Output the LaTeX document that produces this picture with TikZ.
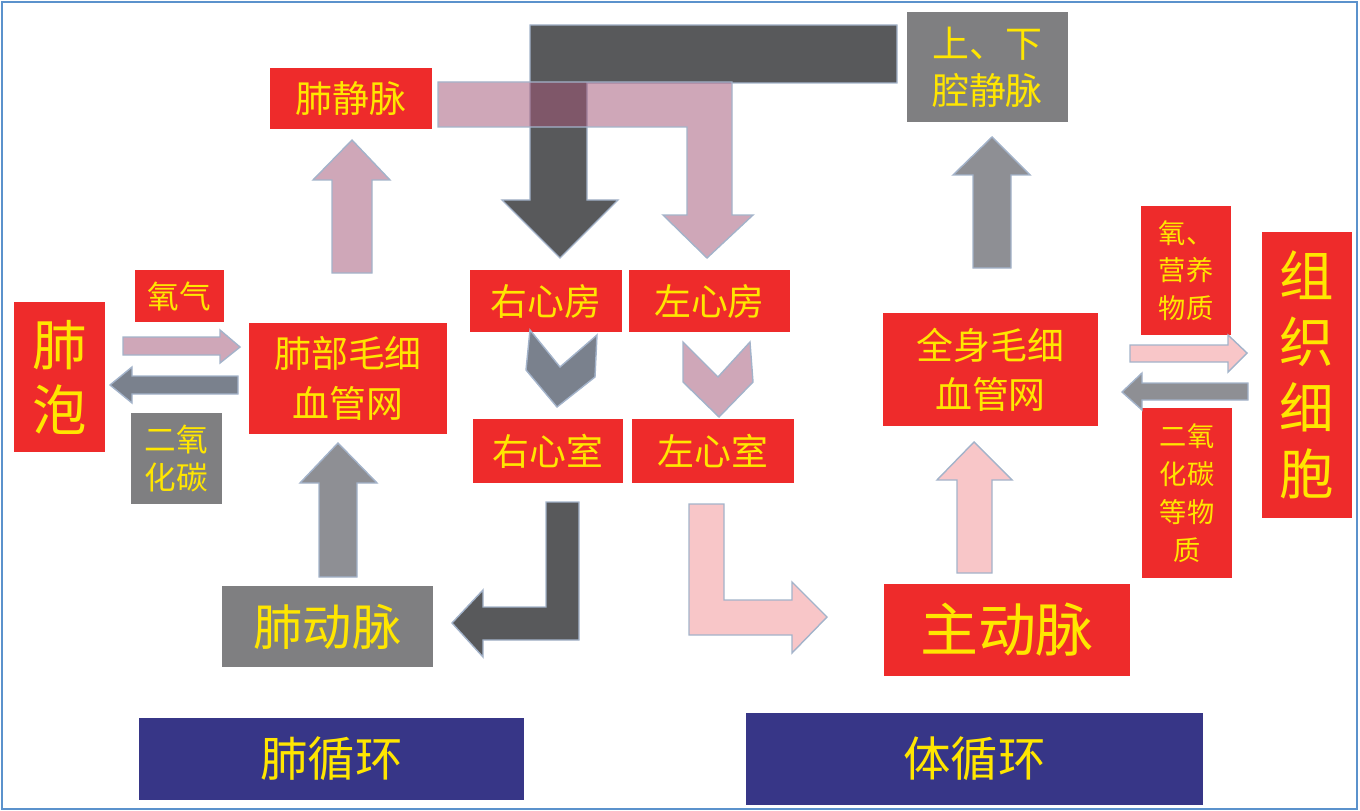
\documentclass[tikz,border=0pt]{standalone}
\usepackage{fontspec}
\newfontfamily\cjk{Noto Sans CJK SC}
\newcommand\setfs[2]{\fontsize{#1}{#2}\selectfont}
\definecolor{boxred}{HTML}{EE2B2B}
\definecolor{boxgray}{HTML}{7F7F81}
\definecolor{navy}{HTML}{373687}
\definecolor{boxtext}{HTML}{FFE600}
\definecolor{framebl}{HTML}{5B92CC}
\definecolor{arrowedge}{HTML}{A3B3CA}
\definecolor{darkarr}{HTML}{58595B}
\definecolor{grayarr}{HTML}{8E8F94}
\definecolor{slatearr}{HTML}{7A818D}
\definecolor{mauve}{HTML}{CFA7B8}
\definecolor{mauvedeep}{HTML}{A35777}
\definecolor{lightpink}{HTML}{F8C6C8}
\begin{document}
\begin{tikzpicture}[x=0.02cm,y=-0.02cm,
  box/.style={inner sep=0pt,text=boxtext,align=center},
  redbox/.style={box,fill=boxred},
  graybox/.style={box,fill=boxgray},
  navybox/.style={box,fill=navy},
  blk/.style={draw=arrowedge,line width=0.8pt,line join=miter}]
  \useasboundingbox (0,0) rectangle (1360,811);
  \draw[framebl,line width=1.3pt] (2,2) rectangle (1357,809);

  % boxes
  \node[redbox,minimum width=3.24cm,minimum height=1.22cm,font=\cjk\setfs{21}{26}] (jingmai) at (351,98.5) {肺静脉};
  \node[graybox,minimum width=3.22cm,minimum height=2.2cm,font=\cjk\setfs{21}{26.6}] (qiangjm) at (987.5,67) {上、下\\腔静脉};
  \node[redbox,minimum width=3.04cm,minimum height=1.24cm,font=\cjk\setfs{21}{26}] (youfang) at (546,301) {右心房};
  \node[redbox,minimum width=3.22cm,minimum height=1.24cm,font=\cjk\setfs{21}{26}] (zuofang) at (709.5,301) {左心房};
  \node[redbox,minimum width=3.0cm,minimum height=1.28cm,font=\cjk\setfs{21}{26}] (youshi) at (548,451) {右心室};
  \node[redbox,minimum width=3.24cm,minimum height=1.28cm,font=\cjk\setfs{21}{26}] (zuoshi) at (713,451) {左心室};
  \node[redbox,minimum width=1.82cm,minimum height=3.0cm,font=\cjk\setfs{31}{37}] (feipao) at (59.5,377) {肺\\泡};
  \node[redbox,minimum width=1.78cm,minimum height=1.04cm,font=\cjk\setfs{18}{21.5}] (yangqi) at (179.5,296) {氧气};
  \node[graybox,minimum width=1.82cm,minimum height=1.82cm,font=\cjk\setfs{18}{21.5}] (co2a) at (176.5,458.5) {二氧\\化碳};
  \node[redbox,minimum width=3.96cm,minimum height=2.22cm,font=\cjk\setfs{21}{28}] (feimao) at (348,378.5) {肺部毛细\\血管网};
  \node[graybox,minimum width=4.22cm,minimum height=1.62cm,font=\cjk\setfs{28}{32}] (feidong) at (327.5,626.5) {肺动脉};
  \node[redbox,minimum width=4.92cm,minimum height=1.84cm,font=\cjk\setfs{33}{38}] (zhudong) at (1007,630) {主动脉};
  \node[redbox,minimum width=4.3cm,minimum height=2.26cm,font=\cjk\setfs{21}{28}] (quanshen) at (990.5,369.5) {全身毛细\\血管网};
  \node[redbox,minimum width=1.8cm,minimum height=2.58cm,font=\cjk\setfs{15.5}{21.5}] (yangying) at (1186,270.5) {氧、\\营养\\物质};
  \node[redbox,minimum width=1.8cm,minimum height=3.4cm,font=\cjk\setfs{15.5}{21.5}] (co2b) at (1187,493) {二氧\\化碳\\等物\\质};
  \node[redbox,minimum width=1.8cm,minimum height=5.72cm,font=\cjk\setfs{31}{37.5}] (zuzhi) at (1307,375) {组\\织\\细\\胞};
  \node[navybox,minimum width=7.7cm,minimum height=1.64cm,font=\cjk\setfs{27}{30}] (feixun) at (331.5,759) {肺循环};
  \node[navybox,minimum width=9.14cm,minimum height=1.84cm,font=\cjk\setfs{27}{30}] (tixun) at (974.5,759) {体循环};

  % big arrows into the atria
  \draw[blk,fill=darkarr] (897,25) -- (530,25) -- (530,200) -- (502,200) -- (560,258)
       -- (618,200) -- (587,200) -- (587,83) -- (897,83) -- cycle;
  \draw[blk,fill=mauvedeep,fill opacity=0.52] (438,82) -- (732,82) -- (732,215) -- (753,215)
       -- (707,258) -- (663,215) -- (687,215) -- (687,127) -- (438,127) -- cycle;

  % up arrows
  \draw[blk,fill=mauve] (332,273) -- (332,180) -- (313,180) -- (352,140) -- (390,180) -- (372,180) -- (372,273) -- cycle;
  \draw[blk,fill=grayarr] (319,577) -- (319,483) -- (300,483) -- (338,443) -- (377,483) -- (357,483) -- (357,577) -- cycle;
  \draw[blk,fill=grayarr] (973,268) -- (973,175) -- (953,175) -- (992,137) -- (1030,175) -- (1011,175) -- (1011,268) -- cycle;
  \draw[blk,fill=lightpink] (957,573) -- (957,480) -- (937,480) -- (974,442) -- (1012,480) -- (992,480) -- (992,573) -- cycle;

  % gas exchange arrows
  \draw[blk,fill=mauve] (123,337) -- (220,337) -- (220,330) -- (240,347) -- (220,363) -- (220,355) -- (123,355) -- cycle;
  \draw[blk,fill=slatearr] (238,376) -- (132,376) -- (132,367) -- (110,385) -- (132,403) -- (132,394) -- (238,394) -- cycle;
  \draw[blk,fill=lightpink] (1130,345) -- (1228,345) -- (1228,335) -- (1247,353) -- (1228,372) -- (1228,362) -- (1130,362) -- cycle;
  \draw[blk,fill=grayarr] (1248,383) -- (1142,383) -- (1142,373) -- (1122,392) -- (1142,410) -- (1142,400) -- (1248,400) -- cycle;

  % chevrons between atria and ventricles
  \draw[blk,fill=slatearr] (530,330) -- (560,367) -- (597,335) -- (595,377) -- (557,407) -- (526,370) -- cycle;
  \draw[blk,fill=mauve] (683,342) -- (718,377) -- (750,342) -- (753,382) -- (719,417) -- (683,382) -- cycle;

  % bent arrows out of the ventricles
  \draw[blk,fill=darkarr] (546,502) -- (579,502) -- (579,640) -- (483,640) -- (483,657) -- (452,623)
       -- (483,590) -- (483,607) -- (546,607) -- cycle;
  \draw[blk,fill=lightpink] (689,504) -- (724,504) -- (724,600) -- (792,600) -- (792,582) -- (827,617)
       -- (792,653) -- (792,635) -- (689,635) -- cycle;
\end{tikzpicture}
\end{document}
